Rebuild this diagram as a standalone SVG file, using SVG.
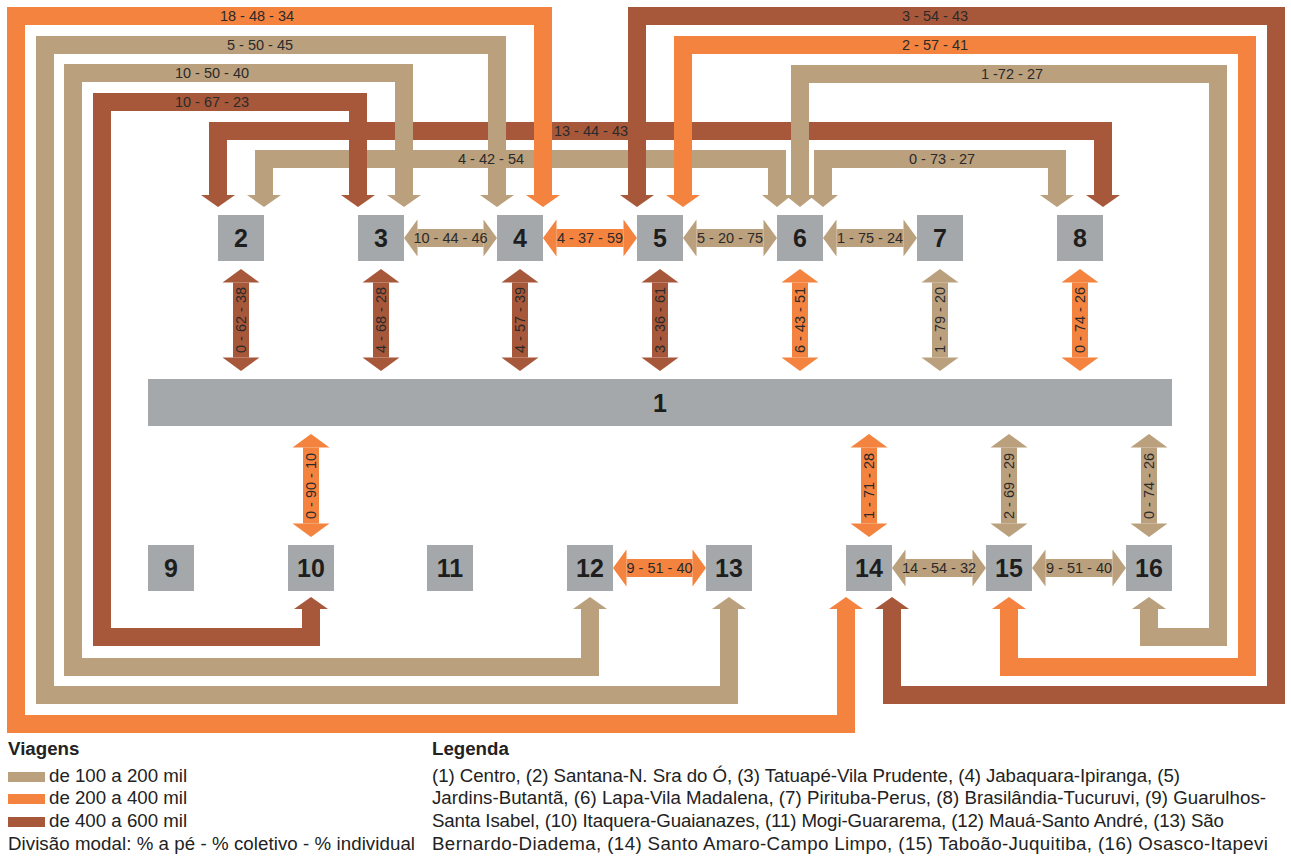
<svg xmlns="http://www.w3.org/2000/svg" width="1291" height="856" viewBox="0 0 1291 856">
<style>
.node rect{fill:#A5A8AB}
.node text{font-family:"Liberation Sans",Arial,sans-serif;font-weight:bold;font-size:25px;fill:#1e1e1e;text-anchor:middle}
.lp{fill:none;stroke-width:18;stroke-linejoin:miter}
.t{stroke:#BBA07E}
.o{stroke:#F4833F}
.b{stroke:#A8583A}
.dv{stroke-width:16}
.dh{stroke-width:18}
.lbl{font-family:"Liberation Sans",Arial,sans-serif;font-size:14.5px;fill:#2a2a2a;text-anchor:middle}
.leg{font-family:"Liberation Sans",Arial,sans-serif;font-size:18.7px;fill:#222}
.legb{font-weight:bold}
</style>
<defs>
<marker id="lt" markerUnits="userSpaceOnUse" orient="auto-start-reverse" overflow="visible" markerWidth="1" markerHeight="1"><path d="M0,-17L12,0L0,17Z" fill="#BBA07E"/></marker>
<marker id="lo" markerUnits="userSpaceOnUse" orient="auto-start-reverse" overflow="visible" markerWidth="1" markerHeight="1"><path d="M0,-17L12,0L0,17Z" fill="#F4833F"/></marker>
<marker id="lb" markerUnits="userSpaceOnUse" orient="auto-start-reverse" overflow="visible" markerWidth="1" markerHeight="1"><path d="M0,-17L12,0L0,17Z" fill="#A8583A"/></marker>
<marker id="ln" markerUnits="userSpaceOnUse" orient="auto-start-reverse" overflow="visible" markerWidth="1" markerHeight="1"><path d="M0,-15L12,0L0,15Z" fill="#BBA07E"/></marker>
<marker id="dt" markerUnits="userSpaceOnUse" orient="auto-start-reverse" overflow="visible" markerWidth="1" markerHeight="1"><path d="M0,-18.5L13.5,0L0,18.5Z" fill="#BBA07E"/></marker>
<marker id="do" markerUnits="userSpaceOnUse" orient="auto-start-reverse" overflow="visible" markerWidth="1" markerHeight="1"><path d="M0,-18.5L13.5,0L0,18.5Z" fill="#F4833F"/></marker>
<marker id="db" markerUnits="userSpaceOnUse" orient="auto-start-reverse" overflow="visible" markerWidth="1" markerHeight="1"><path d="M0,-18.5L13.5,0L0,18.5Z" fill="#A8583A"/></marker>
</defs>
<rect width="1291" height="856" fill="#ffffff"/>
<g id="connectors">
<path class="lp b" d="M218,195V131H1103V195" marker-start="url(#lb)" marker-end="url(#lb)"/>
<path class="lp t" d="M264,195V159H777V195" marker-start="url(#lt)" marker-end="url(#ln)"/>
<path class="lp t" d="M823,195V159H1057V195" marker-start="url(#ln)" marker-end="url(#lt)"/>
<path class="lp o" d="M543,195V16H16V724H846V609" marker-start="url(#lo)" marker-end="url(#lo)"/>
<path class="lp t" d="M497,195V45H45V695H729V609" marker-start="url(#lt)" marker-end="url(#lt)"/>
<path class="lp t" d="M404,195V73H73V667H590V609" marker-start="url(#lt)" marker-end="url(#lt)"/>
<path class="lp b" d="M358,195V102H102V637H311V609" marker-start="url(#lb)" marker-end="url(#lb)"/>
<path class="lp t" d="M800,195V74H1218V637H1149V609" marker-start="url(#ln)" marker-end="url(#lt)"/>
<path class="lp o" d="M683,195V45H1247V667H1009V609" marker-start="url(#lo)" marker-end="url(#lo)"/>
<path class="lp b" d="M637,195V16H1276V695H892V609" marker-start="url(#lb)" marker-end="url(#lb)"/>
<line class="t dh" x1="417.5" y1="238" x2="483.5" y2="238" marker-start="url(#dt)" marker-end="url(#dt)"/>
<line class="o dh" x1="556.5" y1="238" x2="623.5" y2="238" marker-start="url(#do)" marker-end="url(#do)"/>
<line class="t dh" x1="696.5" y1="238" x2="763.5" y2="238" marker-start="url(#dt)" marker-end="url(#dt)"/>
<line class="t dh" x1="836.5" y1="238" x2="903.5" y2="238" marker-start="url(#dt)" marker-end="url(#dt)"/>
<line class="o dh" x1="626.5" y1="568" x2="692.5" y2="568" marker-start="url(#do)" marker-end="url(#do)"/>
<line class="t dh" x1="905.5" y1="568" x2="972.5" y2="568" marker-start="url(#dt)" marker-end="url(#dt)"/>
<line class="t dh" x1="1045.5" y1="568" x2="1112.5" y2="568" marker-start="url(#dt)" marker-end="url(#dt)"/>
<line class="b dv" x1="241" y1="282.5" x2="241" y2="357.5" marker-start="url(#db)" marker-end="url(#db)"/>
<line class="b dv" x1="381" y1="282.5" x2="381" y2="357.5" marker-start="url(#db)" marker-end="url(#db)"/>
<line class="b dv" x1="520" y1="282.5" x2="520" y2="357.5" marker-start="url(#db)" marker-end="url(#db)"/>
<line class="b dv" x1="660" y1="282.5" x2="660" y2="357.5" marker-start="url(#db)" marker-end="url(#db)"/>
<line class="o dv" x1="800" y1="282.5" x2="800" y2="357.5" marker-start="url(#do)" marker-end="url(#do)"/>
<line class="t dv" x1="940" y1="282.5" x2="940" y2="357.5" marker-start="url(#dt)" marker-end="url(#dt)"/>
<line class="o dv" x1="1080" y1="282.5" x2="1080" y2="357.5" marker-start="url(#do)" marker-end="url(#do)"/>
<line class="o dv" x1="311" y1="447.5" x2="311" y2="523.5" marker-start="url(#do)" marker-end="url(#do)"/>
<line class="o dv" x1="869" y1="447.5" x2="869" y2="523.5" marker-start="url(#do)" marker-end="url(#do)"/>
<line class="t dv" x1="1009" y1="447.5" x2="1009" y2="523.5" marker-start="url(#dt)" marker-end="url(#dt)"/>
<line class="t dv" x1="1149" y1="447.5" x2="1149" y2="523.5" marker-start="url(#dt)" marker-end="url(#dt)"/>
</g>
<g id="connector-labels" class="lbl">
<text class="lbl" x="257" y="16" dy="0.35em">18 - 48 - 34</text>
<text class="lbl" x="260" y="45" dy="0.35em">5 - 50 - 45</text>
<text class="lbl" x="212" y="73" dy="0.35em">10 - 50 - 40</text>
<text class="lbl" x="212" y="102" dy="0.35em">10 - 67 - 23</text>
<text class="lbl" x="591" y="131" dy="0.35em">13 - 44 - 43</text>
<text class="lbl" x="491" y="159" dy="0.35em">4 - 42 - 54</text>
<text class="lbl" x="942" y="159" dy="0.35em">0 - 73 - 27</text>
<text class="lbl" x="1012" y="74" dy="0.35em">1 -72 - 27</text>
<text class="lbl" x="935" y="45" dy="0.35em">2 - 57 - 41</text>
<text class="lbl" x="935" y="16" dy="0.35em">3 - 54 - 43</text>
<text class="lbl" x="450.5" y="238" dy="0.35em">10 - 44 - 46</text>
<text class="lbl" x="590" y="238" dy="0.35em">4 - 37 - 59</text>
<text class="lbl" x="730" y="238" dy="0.35em">5 - 20 - 75</text>
<text class="lbl" x="870" y="238" dy="0.35em">1 - 75 - 24</text>
<text class="lbl" x="659.5" y="568" dy="0.35em">9 - 51 - 40</text>
<text class="lbl" x="939" y="568" dy="0.35em">14 - 54 - 32</text>
<text class="lbl" x="1079" y="568" dy="0.35em">9 - 51 - 40</text>
<text class="lbl" transform="translate(241,320) rotate(-90)" dy="0.35em">0 - 62 - 38</text>
<text class="lbl" transform="translate(381,320) rotate(-90)" dy="0.35em">4 - 68 - 28</text>
<text class="lbl" transform="translate(520,320) rotate(-90)" dy="0.35em">4 - 57 - 39</text>
<text class="lbl" transform="translate(660,320) rotate(-90)" dy="0.35em">3 - 36 - 61</text>
<text class="lbl" transform="translate(800,320) rotate(-90)" dy="0.35em">6 - 43 - 51</text>
<text class="lbl" transform="translate(940,320) rotate(-90)" dy="0.35em">1 - 79 - 20</text>
<text class="lbl" transform="translate(1080,320) rotate(-90)" dy="0.35em">0 - 74 - 26</text>
<text class="lbl" transform="translate(311,486) rotate(-90)" dy="0.35em">0 - 90 - 10</text>
<text class="lbl" transform="translate(869,486) rotate(-90)" dy="0.35em">1 - 71 - 28</text>
<text class="lbl" transform="translate(1009,486) rotate(-90)" dy="0.35em">2 - 69 - 29</text>
<text class="lbl" transform="translate(1149,486) rotate(-90)" dy="0.35em">0 - 74 - 26</text>
</g>
<g id="n1" class="node"><rect x="148" y="379" width="1024" height="47"/><text x="660" y="412">1</text></g>
<g id="n2" class="node"><rect x="218" y="215" width="46" height="46"/><text x="241" y="247">2</text></g>
<g id="n3" class="node"><rect x="358" y="215" width="46" height="46"/><text x="381" y="247">3</text></g>
<g id="n4" class="node"><rect x="497" y="215" width="46" height="46"/><text x="520" y="247">4</text></g>
<g id="n5" class="node"><rect x="637" y="215" width="46" height="46"/><text x="660" y="247">5</text></g>
<g id="n6" class="node"><rect x="777" y="215" width="46" height="46"/><text x="800" y="247">6</text></g>
<g id="n7" class="node"><rect x="917" y="215" width="46" height="46"/><text x="940" y="247">7</text></g>
<g id="n8" class="node"><rect x="1057" y="215" width="46" height="46"/><text x="1080" y="247">8</text></g>
<g id="n9" class="node"><rect x="148" y="545" width="46" height="46"/><text x="171" y="577">9</text></g>
<g id="n10" class="node"><rect x="288" y="545" width="46" height="46"/><text x="311" y="577">10</text></g>
<g id="n11" class="node"><rect x="427" y="545" width="46" height="46"/><text x="450" y="577">11</text></g>
<g id="n12" class="node"><rect x="567" y="545" width="46" height="46"/><text x="590" y="577">12</text></g>
<g id="n13" class="node"><rect x="706" y="545" width="46" height="46"/><text x="729" y="577">13</text></g>
<g id="n14" class="node"><rect x="846" y="545" width="46" height="46"/><text x="869" y="577">14</text></g>
<g id="n15" class="node"><rect x="986" y="545" width="46" height="46"/><text x="1009" y="577">15</text></g>
<g id="n16" class="node"><rect x="1126" y="545" width="46" height="46"/><text x="1149" y="577">16</text></g>
<g id="legend">
<text class="leg legb" x="8" y="755">Viagens</text>
<rect x="8" y="772" width="37" height="10" fill="#BBA07E"/>
<rect x="8" y="794" width="37" height="10" fill="#F4833F"/>
<rect x="8" y="817" width="37" height="10" fill="#A8583A"/>
<text class="leg" x="49" y="782">de 100 a 200 mil</text>
<text class="leg" x="49" y="804">de 200 a 400 mil</text>
<text class="leg" x="49" y="827">de 400 a 600 mil</text>
<text class="leg" x="8" y="850" textLength="407">Divisão modal: % a pé - % coletivo - % individual</text>
<text class="leg legb" x="432" y="755">Legenda</text>
<text class="leg" x="432" y="782" textLength="748">(1) Centro, (2) Santana-N. Sra do Ó, (3) Tatuapé-Vila Prudente, (4) Jabaquara-Ipiranga, (5)</text>
<text class="leg" x="432" y="804" textLength="834">Jardins-Butantã, (6) Lapa-Vila Madalena, (7) Pirituba-Perus, (8) Brasilândia-Tucuruvi, (9) Guarulhos-</text>
<text class="leg" x="432" y="827" textLength="792">Santa Isabel, (10) Itaquera-Guaianazes, (11) Mogi-Guararema, (12) Mauá-Santo André, (13) São</text>
<text class="leg" x="432" y="850" textLength="836">Bernardo-Diadema, (14) Santo Amaro-Campo Limpo, (15) Taboão-Juquitiba, (16) Osasco-Itapevi</text>
</g>
</svg>
